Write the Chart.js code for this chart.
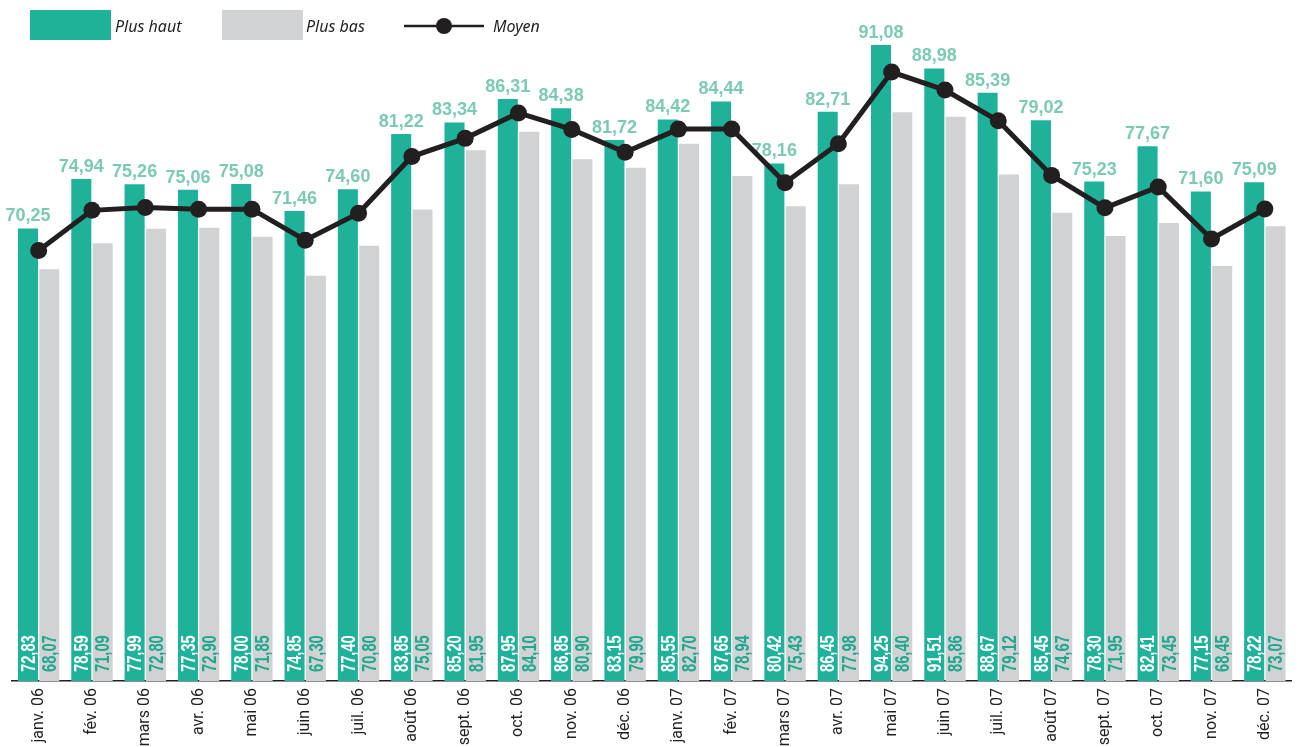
<!DOCTYPE html>
<html lang="fr">
<head>
<meta charset="utf-8">
<title>Plus haut / Plus bas / Moyen</title>
<script src="https://cdn.jsdelivr.net/npm/chart.js@4/dist/chart.umd.min.js"></script>
<style>
    html, body { margin: 0; padding: 0; background: #fff; }
    #graph { display: block; }
</style>
</head>
<body>
<canvas id="graph" width="1300" height="747"></canvas>
<script>
const mois = ['janv. 06', 'fév. 06', 'mars 06', 'avr. 06', 'mai 06', 'juin 06', 'juil. 06', 'août 06',
    'sept. 06', 'oct. 06', 'nov. 06', 'déc. 06', 'janv. 07', 'fév. 07', 'mars 07', 'avr. 07',
    'mai 07', 'juin 07', 'juil. 07', 'août 07', 'sept. 07', 'oct. 07', 'nov. 07', 'déc. 07'];

const plusHaut = [72.83, 78.59, 77.99, 77.35, 78.00, 74.85, 77.40, 83.85, 85.20, 87.95, 86.85, 83.15,
    85.55, 87.65, 80.42, 86.45, 94.25, 91.51, 88.67, 85.45, 78.30, 82.41, 77.15, 78.22];

const plusBas = [68.07, 71.09, 72.80, 72.90, 71.85, 67.30, 70.80, 75.05, 81.95, 84.10, 80.90, 79.90,
    82.70, 78.94, 75.43, 77.98, 86.40, 85.86, 79.12, 74.67, 71.95, 73.45, 68.45, 73.07];

const moyen = [70.25, 74.94, 75.26, 75.06, 75.08, 71.46, 74.60, 81.22, 83.34, 86.31, 84.38, 81.72,
    84.42, 84.44, 78.16, 82.71, 91.08, 88.98, 85.39, 79.02, 75.23, 77.67, 71.60, 75.09];

const TEAL = '#1fb29b';
const GRIS = '#d1d2d4';
const NOIR = '#231f20';

const formatVal = (v) => v.toFixed(2).replace('.', ',');

/**
 * Cherche une police étroite pour les mois, sinon Roboto plus petit
 */
const pickTickFont = () => {
    const ctx = document.createElement('canvas').getContext('2d');
    ctx.font = '19px "Liberation Sans"';
    const ref = ctx.measureText('fév. 06').width;
    const candidates = [
        { family: '"Liberation Sans Narrow"', weight: 'normal', size: 19 },
        { family: '"DejaVu Sans Condensed"', weight: 'normal', size: 18 },
        { family: '"DejaVu Sans"', weight: 'condensed', size: 18 },
        { family: '"Noto Sans"', weight: 'condensed', size: 19 }
    ];
    for (const c of candidates) {
        ctx.font = (c.weight === 'condensed' ? 'condensed ' : '') + c.size + 'px ' + c.family;
        if (ctx.measureText('fév. 06').width < ref * 0.88) return c;
    }
    return { family: 'Roboto', weight: 'normal', size: 16 };
}
const tickFont = pickTickFont();

// texte vertical en bas de la barre (compressé pour imiter une police étroite)
const drawVertical = (ctx, text, x, y, color) => {
    ctx.save();
    ctx.translate(x, y);
    ctx.rotate(-Math.PI / 2);
    ctx.scale(0.7, 1);
    ctx.fillStyle = color;
    ctx.textAlign = 'left';
    ctx.textBaseline = 'middle';
    ctx.font = 'bold 21px "Liberation Sans", Arial, sans-serif';
    ctx.fillText(text, 0, 1);
    ctx.restore();
}

/**
 * Etiquettes des valeurs, dessinées entre les barres et la ligne
 */
const valueLabels = {
    id: 'valueLabels',
    beforeDatasetDraw(chart, args) {
        if (args.meta.type !== 'line') return;
        const ctx = chart.ctx;
        const bottom = chart.chartArea.bottom;
        const hautBars = chart.getDatasetMeta(0).data;
        const basBars = chart.getDatasetMeta(1).data;
        ctx.save();
        hautBars.forEach((bar, i) => {
            ctx.font = 'bold 18px "Liberation Sans", Arial, sans-serif';
            ctx.fillStyle = '#7ccab6';
            ctx.textAlign = 'center';
            ctx.textBaseline = 'alphabetic';
            ctx.fillText(formatVal(moyen[i]), bar.x, bar.y - 7);

            drawVertical(ctx, formatVal(plusHaut[i]), bar.x, bottom - 9, '#ffffff');
            drawVertical(ctx, formatVal(plusBas[i]), basBars[i].x, bottom - 9, '#1ea88e');
        });
        ctx.restore();
    }
};

/**
 * Légende en haut à gauche
 */
const customLegend = {
    id: 'customLegend',
    afterDraw(chart) {
        const ctx = chart.ctx;
        ctx.save();
        ctx.font = 'italic 16px "Noto Sans", "Open Sans", sans-serif';
        ctx.textBaseline = 'middle';
        ctx.textAlign = 'left';

        ctx.fillStyle = TEAL;
        ctx.fillRect(30, 10, 81, 30);
        ctx.fillStyle = NOIR;
        ctx.fillText('Plus haut', 115, 27);

        ctx.fillStyle = GRIS;
        ctx.fillRect(222, 10, 81, 30);
        ctx.fillStyle = NOIR;
        ctx.fillText('Plus bas', 306, 27);

        ctx.strokeStyle = NOIR;
        ctx.lineWidth = 2.5;
        ctx.beginPath();
        ctx.moveTo(404, 26);
        ctx.lineTo(484, 26);
        ctx.stroke();
        ctx.beginPath();
        ctx.arc(444, 26, 8, 0, Math.PI * 2);
        ctx.fill();
        ctx.fillText('Moyen', 493, 27);
        ctx.restore();
    }
};

const canvas = document.getElementById('graph');

new Chart(canvas, {
    type: 'bar',
    data: {
        labels: mois,
        datasets: [
            {
                label: 'Plus haut',
                data: plusHaut,
                backgroundColor: TEAL,
                order: 1,
                categoryPercentage: 0.8,
                barPercentage: 0.94
            },
            {
                label: 'Plus bas',
                data: plusBas,
                backgroundColor: GRIS,
                order: 1,
                categoryPercentage: 0.8,
                barPercentage: 0.94
            },
            {
                type: 'line',
                label: 'Moyen',
                data: moyen,
                order: 0,
                borderColor: NOIR,
                borderWidth: 5,
                pointRadius: 8.5,
                pointBackgroundColor: NOIR,
                pointBorderWidth: 0,
                tension: 0
            }
        ]
    },
    options: {
        responsive: false,
        animation: false,
        layout: { padding: { top: 0, left: 12, right: 8, bottom: 0 } },
        plugins: {
            legend: { display: false },
            tooltip: { enabled: false }
        },
        scales: {
            x: {
                grid: { display: false, drawTicks: false },
                border: { display: true, color: NOIR, width: 1.5 },
                ticks: {
                    color: NOIR,
                    autoSkip: false,
                    minRotation: 90,
                    maxRotation: 90,
                    padding: 7,
                    font: tickFont
                },
                afterFit: (scale) => { scale.height = 66; }
            },
            y: {
                display: false,
                min: 20,
                max: 98.5
            }
        }
    },
    plugins: [valueLabels, customLegend]
});
</script>
</body>
</html>
